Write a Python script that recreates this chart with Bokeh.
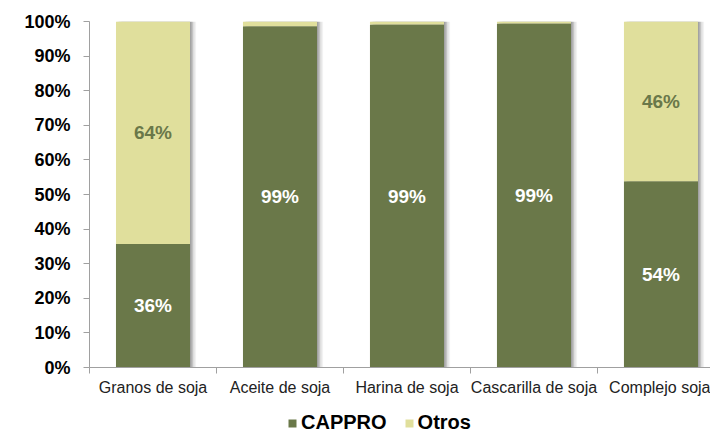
from bokeh.plotting import figure
from bokeh.layouts import column
from bokeh.models import FixedTicker, Legend, LegendItem, ColumnDataSource
from bokeh.transform import dodge
from bokeh.core.properties import value
from bokeh.embed import file_html
from bokeh.resources import INLINE

# ---- data ----
categories = ["Granos de soja", "Aceite de soja", "Harina de soja",
              "Cascarilla de soja", "Complejo soja"]
cappro = [35.7, 98.6, 99.1, 99.4, 53.8]
otros = [64.3, 1.4, 0.9, 0.6, 46.2]
series_names = ["CAPPRO", "Otros"]
y_ticks = [0, 10, 20, 30, 40, 50, 60, 70, 80, 90, 100]
y_tick_labels = ["0%", "10%", "20%", "30%", "40%", "50%", "60%", "70%",
                 "80%", "90%", "100%"]

GREEN = "#6A7849"
YELLOW = "#E0DF9C"
AXIS = "#A0A0A0"
FONT = "Liberation Sans"

xs = list(range(len(categories)))
total = [a + b for a, b in zip(cappro, otros)]
src = ColumnDataSource(dict(x=xs, cappro=cappro, otros=otros, total=total))

p = figure(width=710, height=402, x_range=(-0.5, 4.39), y_range=(0, 100),
           output_backend="svg", toolbar_location=None,
           min_border_left=89, min_border_right=0,
           min_border_top=21, min_border_bottom=35)
p.outline_line_color = None
p.xgrid.visible = False
p.ygrid.visible = False

BAR_W = 0.583

# soft shadow to the right of bars
for off, a in [(0.012, 0.17), (0.024, 0.12), (0.036, 0.08), (0.048, 0.05)]:
    p.vbar(x=dodge("x", off), top="total", bottom=0, width=BAR_W, source=src,
           fill_color="black", fill_alpha=a, line_color=None)

rs = p.vbar_stack(["cappro", "otros"], x="x", width=BAR_W, source=src,
                  fill_color=[GREEN, YELLOW], line_color=None)

# data labels
lx, ly, lt, lc = [], [], [], []
for i in xs:
    lx.append(i); ly.append(cappro[i] / 2); lt.append(f"{cappro[i]:.0f}%"); lc.append("white")
    if otros[i] >= 5:
        lx.append(i); ly.append(cappro[i] + otros[i] / 2); lt.append(f"{otros[i]:.0f}%"); lc.append(GREEN)
lsrc = ColumnDataSource(dict(x=lx, y=ly, text=lt, color=lc))
p.text(x="x", y="y", text="text", text_color="color", source=lsrc,
       text_font=value(FONT), text_font_style="bold", text_font_size="19px",
       text_align="center", text_baseline="middle")

# y axis
yax = p.yaxis[0]
yax.ticker = FixedTicker(ticks=y_ticks)
yax.major_label_overrides = dict(zip(y_ticks, y_tick_labels))
yax.major_label_text_font = FONT
yax.major_label_text_font_style = "bold"
yax.major_label_text_font_size = "18px"
yax.major_label_text_color = "black"
yax.axis_line_color = AXIS
yax.major_tick_line_color = AXIS
yax.major_tick_out = 6
yax.major_tick_in = 0
yax.minor_tick_line_color = None
yax.major_label_standoff = 13

# x axis
xax = p.xaxis[0]
xax.ticker = FixedTicker(ticks=xs, minor_ticks=[i - 0.5 for i in range(len(categories) + 1)])
xax.major_label_overrides = dict(zip(xs, categories))
xax.major_label_text_font = FONT
xax.major_label_text_font_size = "16px"
xax.major_label_text_color = "#222222"
xax.axis_line_color = AXIS
xax.major_tick_line_color = None
xax.major_tick_out = 0
xax.major_tick_in = 0
xax.minor_tick_line_color = AXIS
xax.minor_tick_out = 6
xax.minor_tick_in = 0
xax.major_label_standoff = 5

# ---- legend strip below the chart ----
pl = figure(width=710, height=32, x_range=(0, 1), y_range=(0, 1),
            output_backend="svg", toolbar_location=None,
            x_axis_type=None, y_axis_type=None,
            min_border=0, min_border_left=0, min_border_right=0,
            min_border_top=0, min_border_bottom=0)
pl.outline_line_color = None
pl.xgrid.visible = False
pl.ygrid.visible = False
# off-screen proxy renderers, only used to draw the legend swatches
leg_src = ColumnDataSource(dict(x=[-5], top=[0]))
leg_r = [pl.vbar(x="x", top="top", width=0.0, source=leg_src, fill_color=c, line_color=None)
         for c in (GREEN, YELLOW)]

legend = Legend(items=[LegendItem(label=series_names[0], renderers=[leg_r[0]]),
                       LegendItem(label=series_names[1], renderers=[leg_r[1]])],
                orientation="horizontal", location=(198, 0),
                glyph_width=10, glyph_height=10, label_standoff=4, spacing=17,
                padding=0, margin=0, border_line_color=None,
                background_fill_alpha=0, label_height=16,
                label_text_font=FONT, label_text_font_style="bold",
                label_text_font_size="20px", label_text_color="black")
pl.add_layout(legend)

layout = column(p, pl, spacing=0)
open("out.html", "w").write(file_html(layout, INLINE))
